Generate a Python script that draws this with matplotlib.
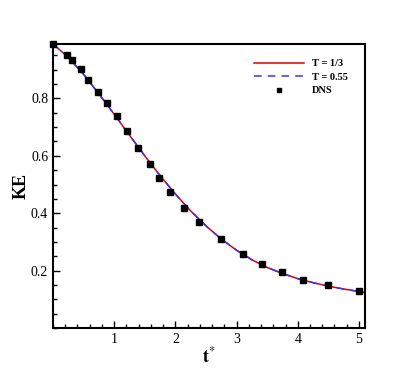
"""KE decay: model curves vs DNS."""

import matplotlib
matplotlib.use('Agg')
import matplotlib.pyplot as plt
from matplotlib.ticker import MultipleLocator

plt.rcParams['font.family'] = ['Liberation Serif', 'DejaVu Serif']
plt.rcParams['mathtext.fontset'] = 'stix'

# model curves (both nearly identical)
t_curve = [0, 0.25, 0.5, 0.75, 1.0, 1.25, 1.5, 1.75, 2.0, 2.25, 2.5,
           2.75, 3.0, 3.25, 3.5, 3.75, 4.0, 4.25, 4.5, 4.75, 5.1]
ke_t13 = [0.99, 0.943, 0.884, 0.816, 0.745, 0.672, 0.600, 0.531, 0.467,
          0.408, 0.356, 0.310, 0.271, 0.238, 0.211, 0.190, 0.172, 0.158,
          0.146, 0.136, 0.124]
ke_t055 = [0.99, 0.943, 0.884, 0.816, 0.745, 0.672, 0.600, 0.531, 0.467,
           0.408, 0.356, 0.310, 0.271, 0.238, 0.211, 0.190, 0.172, 0.158,
           0.146, 0.136, 0.124]

# DNS
t_dns = [0.0, 0.23, 0.31, 0.45, 0.58, 0.74, 0.89, 1.05, 1.21, 1.39, 1.58,
         1.73, 1.91, 2.14, 2.38, 2.74, 3.11, 3.41, 3.74, 4.09, 4.50, 5.00]
ke_dns = [0.99, 0.950, 0.935, 0.901, 0.865, 0.822, 0.784, 0.738, 0.685,
          0.629, 0.571, 0.522, 0.473, 0.418, 0.371, 0.311, 0.258, 0.223,
          0.196, 0.166, 0.149, 0.129]


def main():
    fig = plt.figure(figsize=(4.15, 3.69), dpi=100)
    ax = fig.add_axes([0.1277, 0.111, 0.752, 0.770])

    ax.plot(t_curve, ke_t13, color='#e00000', lw=1.1, label='T = 1/3')
    ax.plot(t_curve, ke_t055, color='#3333ff', lw=1.1, ls=(0, (5, 4)),
            label='T = 0.55')
    ax.plot(t_dns, ke_dns, ls='none', marker='s', ms=5, color='k',
            label='DNS', clip_on=False, zorder=5)

    ax.set_xlim(0, 5.1)
    ax.set_ylim(0, 0.99)
    ax.set_xticks([1, 2, 3, 4, 5])
    ax.set_yticks([0.2, 0.4, 0.6, 0.8])
    ax.xaxis.set_minor_locator(MultipleLocator(0.2))
    ax.yaxis.set_minor_locator(MultipleLocator(0.05))
    ax.tick_params(which='both', direction='in', top=False, right=False,
                   labelsize=10, width=1.0)
    ax.tick_params(which='major', length=5)
    ax.tick_params(which='minor', length=3)
    for s in ax.spines.values():
        s.set_linewidth(1.5)

    ax.set_xlabel(r'$\mathbf{t}^{*}$', fontsize=13, labelpad=0)
    ax.set_ylabel('KE', fontsize=13, fontweight='bold', labelpad=1)

    leg = ax.legend(loc='upper right', bbox_to_anchor=(0.975, 0.98),
                    frameon=False, fontsize=7.5, handlelength=4.8,
                    handletextpad=0.8, labelspacing=0.4, markerscale=0.7)
    for txt in leg.get_texts():
        txt.set_fontweight('bold')

    fig.savefig('out.png', dpi=100)


if __name__ == '__main__':
    main()
